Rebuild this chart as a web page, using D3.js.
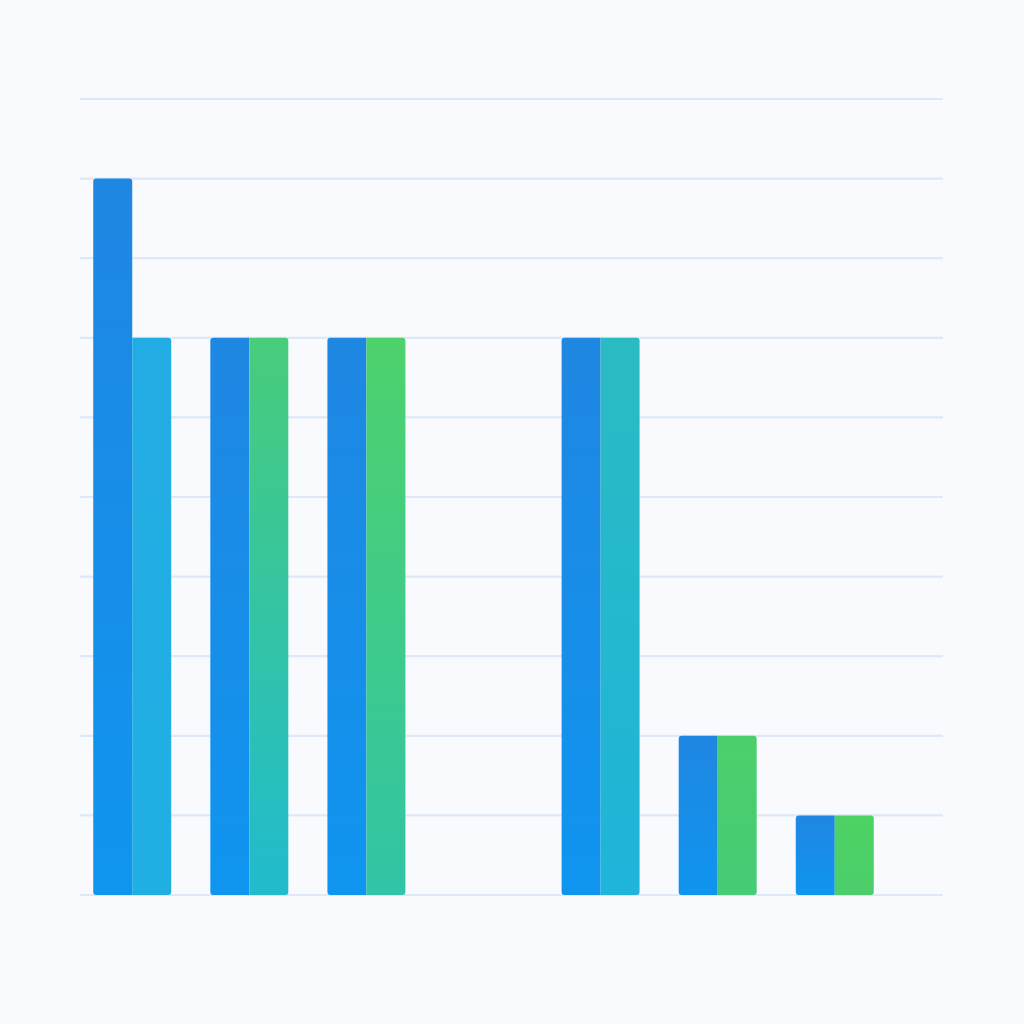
<!DOCTYPE html>
<html>
<head>
<meta charset="utf-8">
<script src="https://cdn.jsdelivr.net/npm/d3@7"></script>
<style>
  html, body { margin: 0; padding: 0; background: #f8fafd; }
  svg { display: block; }
</style>
</head>
<body>
<div id="chart"></div>
<script>
  // chart data
  const categories = ["A", "B", "C", "D", "E", "F", "G"];
  const series_names = ["first", "second"];
  const first_values = [9, 7, 7, 0, 7, 2, 1];
  const second_values = [7, 7, 7, 0, 7, 2, 1];
  const y_ticks = [0, 1, 2, 3, 4, 5, 6, 7, 8, 9, 10];

  // styling: gradient stops (top, bottom) per group for the second series
  const first_grad = ["#1f87e2", "#0f95f0"];
  const second_grads = [
    ["#23ace4", "#20afe3"],
    ["#48cd7a", "#20bbce"],
    ["#4ed26c", "#31c4a6"],
    ["#2abbc2", "#1fb4da"],
    ["#4ccf6a", "#46cb76"],
    ["#4dd263", "#4bce6b"]
  ];

  const width = 1024, height = 1024;
  const margin = {top: 99, right: 81, bottom: 129, left: 80};
  const radius = 3;

  const svg = d3.select("#chart").append("svg")
    .attr("width", width)
    .attr("height", height);

  svg.append("rect")
    .attr("width", width)
    .attr("height", height)
    .attr("fill", "#f8fafd");

  const y = d3.scaleLinear()
    .domain([0, 10])
    .range([height - margin.bottom, margin.top]);

  const x0 = d3.scaleBand()
    .domain(categories)
    .range([margin.left, 887])
    .paddingInner(0.334)
    .paddingOuter(0.113);

  const x1 = d3.scaleBand()
    .domain(series_names)
    .range([0, x0.bandwidth()])
    .padding(0);

  // grid lines
  svg.append("g")
    .selectAll("line")
    .data(y_ticks)
    .join("line")
    .attr("x1", margin.left)
    .attr("x2", width - margin.right)
    .attr("y1", d => y(d))
    .attr("y2", d => y(d))
    .attr("stroke", "#dde9f8")
    .attr("stroke-width", 2.2);

  const defs = svg.append("defs");
  function add_grad(id, stops) {
    const g = defs.append("linearGradient")
      .attr("id", id)
      .attr("x1", 0).attr("y1", 0)
      .attr("x2", 0).attr("y2", 1);
    g.append("stop").attr("offset", "0%").attr("stop-color", stops[0]);
    g.append("stop").attr("offset", "100%").attr("stop-color", stops[1]);
  }
  add_grad("grad_first", first_grad);

  // rect path with separate corner radii [tl, tr, br, bl]
  function bar_path(x, yy, w, h, r) {
    const [tl, tr, br, bl] = r;
    return `M${x + tl},${yy}` +
      `H${x + w - tr}` + (tr ? `Q${x + w},${yy} ${x + w},${yy + tr}` : "") +
      `V${yy + h - br}` + (br ? `Q${x + w},${yy + h} ${x + w - br},${yy + h}` : "") +
      `H${x + bl}` + (bl ? `Q${x},${yy + h} ${x},${yy + h - bl}` : "") +
      `V${yy + tl}` + (tl ? `Q${x},${yy} ${x + tl},${yy}` : "") + "Z";
  }

  const rows = categories.map((c, i) => ({cat: c, first: first_values[i], second: second_values[i]}))
    .filter(d => d.first > 0 || d.second > 0);
  rows.forEach((d, i) => add_grad("grad_second_" + i, second_grads[i]));

  const groups = svg.append("g")
    .selectAll("g")
    .data(rows)
    .join("g")
    .attr("transform", d => `translate(${x0(d.cat)},0)`);

  groups.selectAll("path")
    .data((d, i) => series_names.map(s => ({
      key: s,
      value: d[s],
      other: s === "first" ? d.second : d.first,
      idx: i
    })))
    .join("path")
    .attr("d", d => {
      const top = y(d.value);
      const h = y(0) - top;
      const inner_top = d.value > d.other ? radius : 0;
      const r = d.key === "first"
        ? [radius, inner_top, 0, radius]
        : [inner_top, radius, radius, 0];
      return bar_path(x1(d.key), top, x1.bandwidth(), h, r);
    })
    .attr("fill", d => d.key === "first" ? "url(#grad_first)" : `url(#grad_second_${d.idx})`);
</script>
</body>
</html>
